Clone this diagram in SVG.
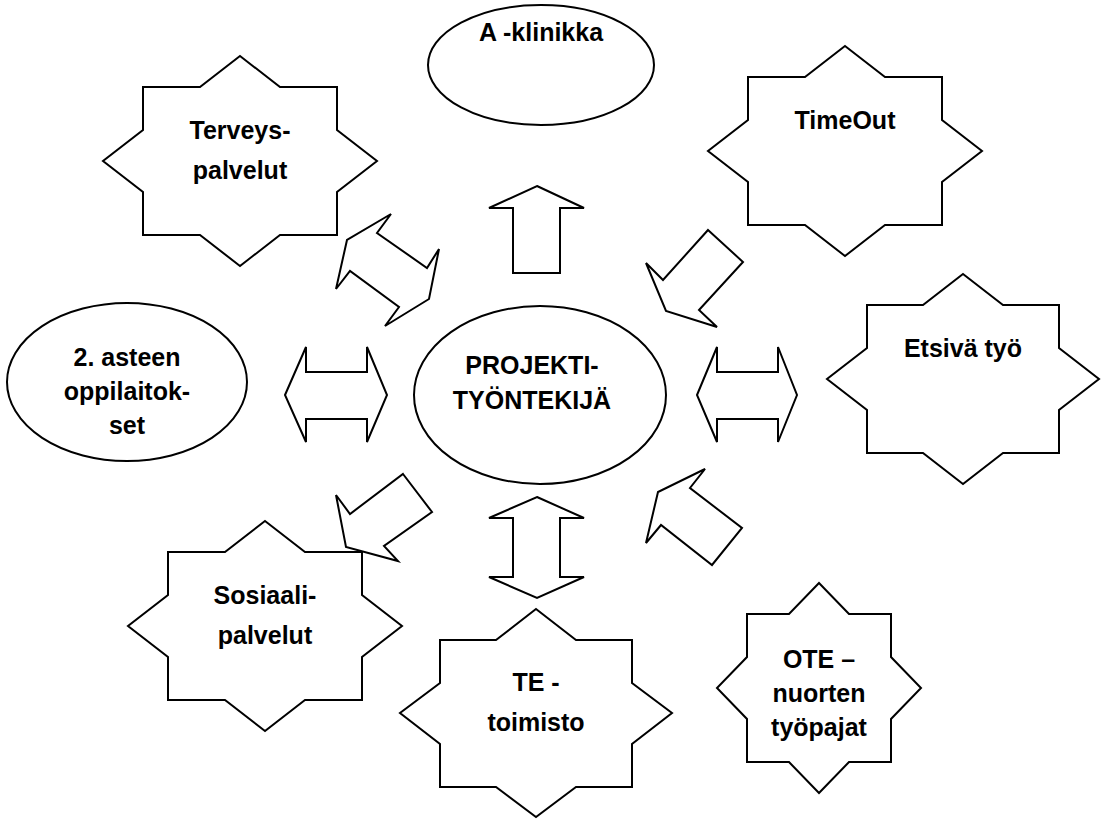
<svg xmlns="http://www.w3.org/2000/svg" width="1101" height="820" viewBox="0 0 1101 820">
<style>
.s{fill:#fff;stroke:#000;stroke-width:2;stroke-linejoin:miter}
.t{font-family:"Liberation Sans",Arial,sans-serif;font-weight:bold;font-size:25px;text-anchor:middle;fill:#000}
</style>
<rect width="1101" height="820" fill="#fff"/>
<g id="connectors">
<polygon class="s" points="537,186 584,208 560,208 560,273 513,273 513,208 489,208"/>
<polygon class="s" points="537,497 584,518 560,518 560,577 584,577 537,598 489,577 513,577 513,518 489,518"/>
<polygon class="s" points="285,395 306,347 306,372 367,372 367,347 387,395 367,442 367,419 306,419 306,442"/>
<polygon class="s" points="697,395 717,347 717,372 778,372 778,347 797,395 778,442 778,419 717,419 717,442"/>
<polygon class="s" points="391,214 377,233 427,268 439,249 429,299 385,326 399,307 350,271 336,289 347,240"/>
<polygon class="s" points="708,230 743,262 699,310 717,327 666,311 646,263 663,280"/>
<polygon class="s" points="403,474 432,512 384,546 398,561 346,547 336,495 350,514"/>
<polygon class="s" points="705,469 690,488 742,528 712,565 661,525 646,543 658,492"/>
</g>
<g id="a-klinikka">
<ellipse class="s" cx="541" cy="65" rx="113" ry="60"/>
<text class="t" x="541" y="41">A -klinikka</text>
</g>
<g id="terveyspalvelut">
<polygon class="s" points="240,56 280,87 337,87 337,130 377,161 337,192 337,235 280,235 240,266 200,235 143,235 143,192 103,161 143,130 143,87 200,87"/>
<text class="t" x="240" y="139">Terveys-</text>
<text class="t" x="240" y="179">palvelut</text>
</g>
<g id="timeout">
<polygon class="s" points="845,46 885,77 942,77 942,120 982,151 942,182 942,225 885,225 845,256 805,225 748,225 748,182 708,151 748,120 748,77 805,77"/>
<text class="t" x="845" y="129">TimeOut</text>
</g>
<g id="etsiva-tyo">
<polygon class="s" points="963,274 1003,305 1059,305 1059,348 1099,379 1059,410 1059,453 1003,453 963,484 923,453 867,453 867,410 827,379 867,348 867,305 923,305"/>
<text class="t" x="963" y="357">Etsivä työ</text>
</g>
<g id="oppilaitokset">
<ellipse class="s" cx="127" cy="382" rx="120" ry="79"/>
<text class="t" x="127" y="366">2. asteen</text>
<text class="t" x="127" y="400">oppilaitok-</text>
<text class="t" x="127" y="434">set</text>
</g>
<g id="projektityontekija">
<ellipse class="s" cx="540" cy="395" rx="126" ry="89"/>
<text class="t" x="532" y="374">PROJEKTI-</text>
<text class="t" x="532" y="409">TYÖNTEKIJÄ</text>
</g>
<g id="sosiaalipalvelut">
<polygon class="s" points="265,521 305,552 362,552 362,595 402,626 362,657 362,700 305,700 265,731 225,700 168,700 168,657 128,626 168,595 168,552 225,552"/>
<text class="t" x="265" y="604">Sosiaali-</text>
<text class="t" x="265" y="644">palvelut</text>
</g>
<g id="te-toimisto">
<polygon class="s" points="536,609 576,640 632,640 632,683 672,713 632,744 632,787 576,787 536,817 496,787 440,787 440,744 400,713 440,683 440,640 496,640"/>
<text class="t" x="536" y="691">TE -</text>
<text class="t" x="536" y="731">toimisto</text>
</g>
<g id="ote">
<polygon class="s" points="819,583 849,614 891,614 891,657 921,688 891,719 891,762 849,762 819,793 789,762 747,762 747,719 717,688 747,657 747,614 789,614"/>
<text class="t" x="819" y="668">OTE –</text>
<text class="t" x="819" y="702">nuorten</text>
<text class="t" x="819" y="736">työpajat</text>
</g>
</svg>
